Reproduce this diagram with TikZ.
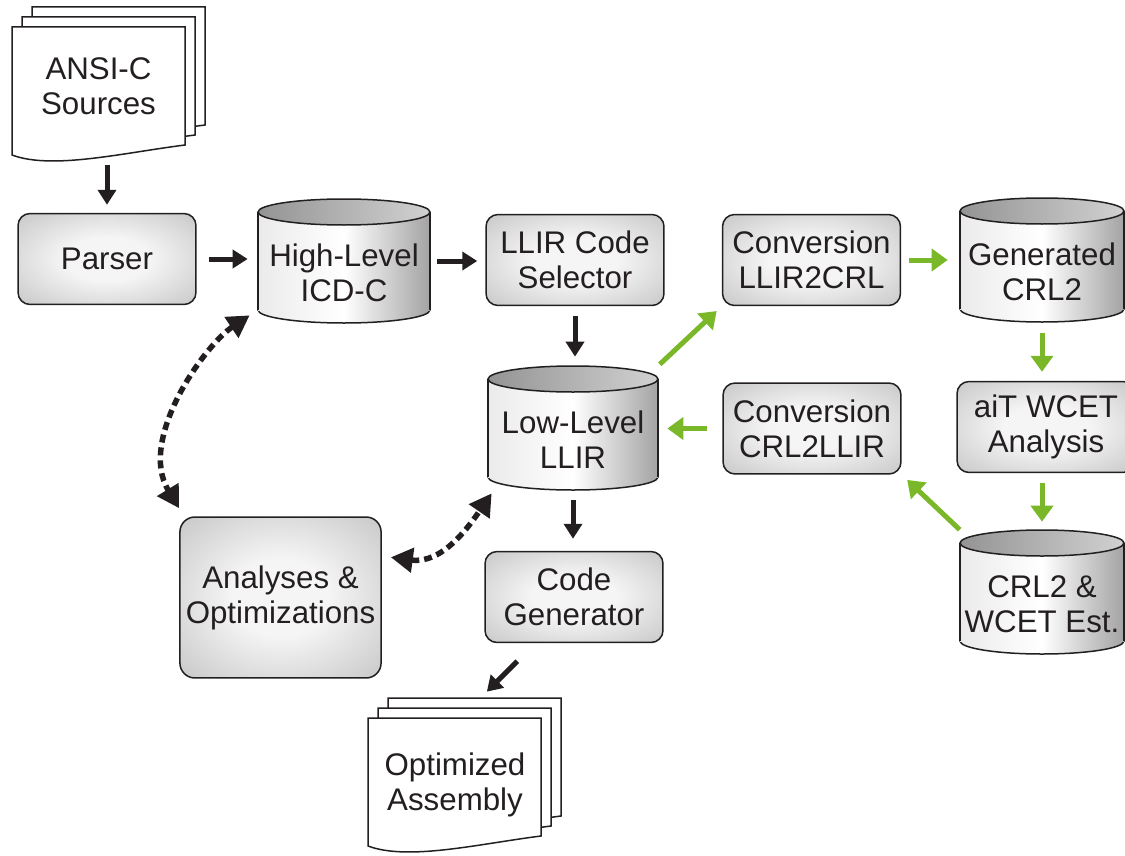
\documentclass[tikz,border=0pt]{standalone}
\usepackage{fontspec}
\setmainfont{Liberation Sans}
\usetikzlibrary{arrows.meta,calc}
\definecolor{ink}{RGB}{35,31,32}
\definecolor{wgreen}{RGB}{122,184,41}
\colorlet{rim}{black!34}
\colorlet{glow}{black!4}
\pgfdeclareradialshading{boxglow}{\pgfpoint{0bp}{0bp}}{color(0bp)=(glow); color(12bp)=(glow); color(52bp)=(rim); color(75bp)=(rim)}

\begin{document}
\begin{tikzpicture}[x=0.02cm,y=-0.02cm,
        txt/.style={font=\fontsize{17.8}{20}\selectfont, text=ink, align=center},
        box/.style={txt, draw=ink, line width=0.03cm, rounded corners=0.24cm,
            shade, shading=boxglow, minimum width=3.56cm, minimum height=1.82cm},
        drum/.style={minimum height=2.48cm, inner sep=0pt},
        lbl/.style={txt, yshift=-0.24cm},
        arr/.style={-{Triangle[length=0.3cm,width=0.36cm]}, line width=0.1cm, draw=ink},
        garr/.style={-{Triangle[length=0.32cm,width=0.44cm]}, line width=0.1cm, draw=wgreen},
        darr/.style={{Triangle[length=0.44cm,width=0.48cm]}-{Triangle[length=0.44cm,width=0.48cm]},
            line width=0.11cm, draw=ink, dash pattern=on 0.16cm off 0.1cm}]
    \useasboundingbox (0,0) rectangle (1125,855);

    % paper stacks
    \foreach \x/\y in {12/27,368/718} {
        \foreach \d in {20,10,0} {
            \draw[ink, line width=0.03cm, fill=white] ({\x+\d},{\y-\d}) -- ++(173,0) -- ++(0,118)
                .. controls +(-63,8) and +(40,15) .. ++(-173,10) -- cycle;
        }
    }

    % drums
    \foreach \cx/\cy/\rx in {344/261/86,573/428/85,1042/260/82,1042/592/82} {
        \path[draw=ink, line width=0.03cm, left color=black!8, right color=black!36, middle color=white]
            ({\cx},{\cy+49}) ellipse [x radius=\rx, y radius=13];
        \path[left color=black!8, right color=black!36, middle color=white]
            ({\cx-\rx},{\cy-49}) rectangle ({\cx+\rx},{\cy+49});
        \draw[ink, line width=0.03cm] ({\cx-\rx},{\cy-49}) -- ({\cx-\rx},{\cy+49})
            ({\cx+\rx},{\cy-49}) -- ({\cx+\rx},{\cy+49});
        \path[draw=ink, line width=0.03cm, left color=black!42, right color=black!18]
            ({\cx},{\cy-49}) ellipse [x radius=\rx, y radius=13];
    }

    \node[txt, minimum width=3.46cm, minimum height=2.36cm] (src) at (98.5,86) {ANSI-C\\Sources};
    \node[txt, minimum width=3.46cm, minimum height=2.68cm] (asm) at (455,785) {Optimized\\Assembly};
    \node[box] (parser) at (107,259) {Parser};
    \node[drum, minimum width=3.44cm, label={[lbl]center:{High-Level\\ICD-C}}] (icd) at (344,261) {};
    \node[box] (sel) at (575,260) {LLIR Code\\Selector};
    \node[drum, minimum width=3.4cm, label={[lbl]center:{Low-Level\\LLIR}}] (llir) at (573,428) {};
    \node[box] (cg) at (574,597) {Code\\Generator};
    \node[box, minimum width=3.94cm, minimum height=3.22cm, rounded corners=0.3cm] (opt) at (280.5,597.5) {Analyses \&\\Optimizations};
    \node[box] (l2c) at (811.5,260) {Conversion\\LLIR2CRL};
    \node[box] (c2l) at (812,428.5) {Conversion\\CRL2LLIR};
    \node[drum, minimum width=3.28cm, label={[lbl]center:{Generated\\CRL2}}] (crl) at (1042,260) {};
    \node[box] (ait) at (1046,427) {aiT WCET\\Analysis};
    \node[drum, minimum width=3.28cm, label={[lbl]center:{CRL2 \&\\WCET Est.}}] (est) at (1042,592) {};

    % compiler flow
    \draw[arr, shorten <=0.4cm, shorten >=0.16cm] (src.south -| parser) -- (parser.north);
    \draw[arr, shorten <=0.24cm, shorten >=0.2cm] (parser.east) -- (parser.east -| icd.west);
    \draw[arr, shorten <=0.14cm, shorten >=0.16cm] (icd.east) -- (icd.east -| sel.west);
    \draw[arr, shorten <=0.2cm, shorten >=0.18cm] (sel.south) -- (sel.south |- llir.north);
    \draw[arr, shorten <=0.2cm, shorten >=0.24cm] (llir.south) -- (llir.south |- cg.north);
    \draw[arr] ($(cg.south west)+(33,18)$) -- ($(asm.north east)+(-55,-26)$);
    \draw[darr] ($(icd.south west)+(-8,-8)$) .. controls +(-45,30) and +(-42,-69) .. ($(opt.north west)+(0,-8)$);
    \draw[darr] ($(opt.north east)+(9,41)$) .. controls +(52,7) and +(-22,32) .. ($(llir.south west)+(4,3)$);

    % wcet loop
    \draw[garr, shorten <=0.04cm, shorten >=0.14cm] (llir.north east) -- (l2c.south west);
    \draw[garr, shorten <=0.16cm, shorten >=0.24cm] (l2c.east) -- (l2c.east -| crl.west);
    \draw[garr, shorten <=0.22cm, shorten >=0.18cm] (crl.south) -- (crl.south |- ait.north);
    \draw[garr, shorten <=0.2cm, shorten >=0.16cm] (est.north |- ait.south) -- (est.north);
    \draw[garr, shorten >=0.15cm] (est.north west) -- (c2l.south east);
    \draw[garr, shorten <=0.3cm, shorten >=0.18cm] (c2l.west) -- (c2l.west -| llir.east);
\end{tikzpicture}
\end{document}
